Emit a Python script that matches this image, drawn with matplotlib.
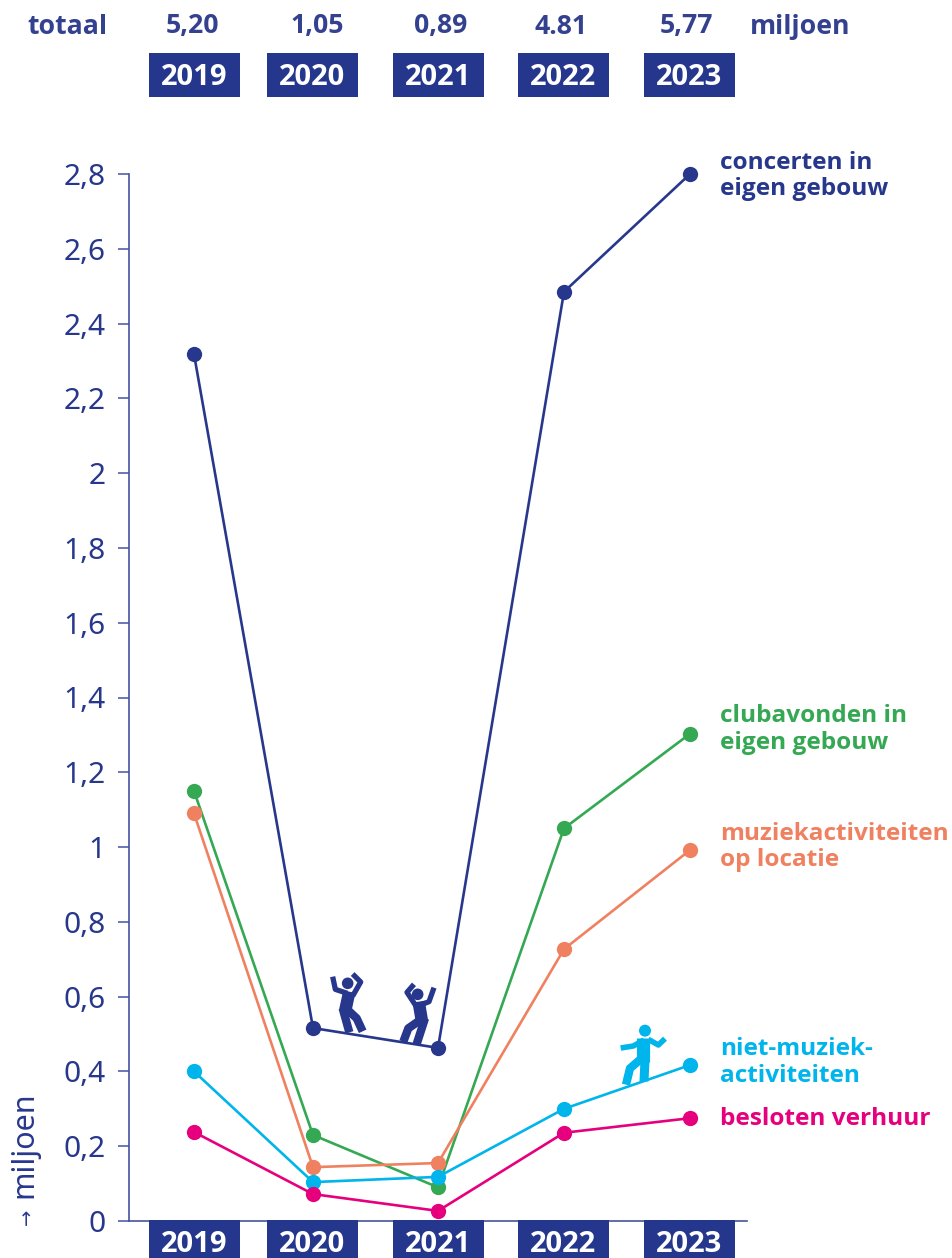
import matplotlib
matplotlib.use("Agg")
import matplotlib.pyplot as plt
from matplotlib.patches import Rectangle, Circle

W, H = 953, 1258
NAVY = "#27378C"
AXIS = "#4453A0"
GREEN = "#35A853"
ORANGE = "#F08160"
CYAN = "#00B4EC"
PINK = "#E6007E"

years = ["2019", "2020", "2021", "2022", "2023"]
totals = ["5,20", "1,05", "0,89", "4.81", "5,77"]
concerten = [2.318, 0.516, 0.463, 2.485, 2.80]
clubavonden = [1.15, 0.23, 0.09, 1.05, 1.303]
muziekactiviteiten = [1.09, 0.144, 0.155, 0.727, 0.992]
niet_muziek = [0.40, 0.104, 0.118, 0.30, 0.417]
besloten = [0.238, 0.072, 0.027, 0.236, 0.275]
yticks = [0, 0.2, 0.4, 0.6, 0.8, 1, 1.2, 1.4, 1.6, 1.8, 2, 2.2, 2.4, 2.6, 2.8]
yticklabels = ["0", "0,2", "0,4", "0,6", "0,8", "1", "1,2", "1,4", "1,6", "1,8",
               "2", "2,2", "2,4", "2,6", "2,8"]

# layout (pixels)
x_centers = [194, 313, 438, 564, 690]
box_lefts = [149, 267, 393, 518, 644]
total_x = [192, 317, 441, 561, 686]
BOX_W = 91
AX_L, AX_R, AX_T, AX_B = 129, 747, 174, 1221
BOLD = ["Open Sans", "DejaVu Sans"]

plt.rcParams["font.family"] = ["Noto Sans", "DejaVu Sans"]
fig = plt.figure(figsize=(W / 100, H / 100), dpi=100)

ax = fig.add_axes([AX_L / W, 1 - AX_B / H, (AX_R - AX_L) / W, (AX_B - AX_T) / H])
ax.set_xlim(AX_L, AX_R)
ax.set_ylim(0, 2.8)
ax.patch.set_alpha(0)
for s in ("top", "right"):
    ax.spines[s].set_visible(False)
for s in ("left", "bottom"):
    ax.spines[s].set_color(AXIS)
    ax.spines[s].set_linewidth(1.2)
ax.set_xticks([])
ax.set_yticks(yticks)
ax.set_yticklabels(yticklabels, fontsize=21.5, color=NAVY)
ax.tick_params(axis="y", length=8, width=1.1, color=AXIS, pad=9)

series = [
    (concerten, NAVY), (clubavonden, GREEN), (muziekactiviteiten, ORANGE),
    (niet_muziek, CYAN), (besloten, PINK),
]
for vals, col in series:
    ax.plot(x_centers, vals, color=col, lw=1.9, marker="o", ms=11, mew=0,
            clip_on=False, zorder=3)

# overlay in pixel coordinates for texts, boxes and icons
ov = fig.add_axes([0, 0, 1, 1])
ov.set_xlim(0, W)
ov.set_ylim(H, 0)
ov.axis("off")
ov.patch.set_alpha(0)

for xl, yr in zip(box_lefts, years):
    cx = xl + BOX_W / 2
    for top, h, ty in ((53, 44, 74), (1220, 40, 1241)):
        ov.add_patch(Rectangle((xl, top), BOX_W, h, color="#25368D", lw=0))
        ov.text(cx, ty, yr, color="white", fontsize=21, fontweight="bold",
                family=BOLD, ha="center", va="center_baseline")

for xc, t in zip(total_x, totals):
    ov.text(xc, 23.5, t, color="#33418F", fontsize=19.2, fontweight="bold", family=BOLD,
            ha="center", va="center_baseline")
ov.text(27, 23.5, "totaal", color="#33418F", fontsize=19.2, fontweight="bold", family=BOLD, va="center_baseline")
ov.text(750, 23.5, "miljoen", color="#33418F", fontsize=19.2, fontweight="bold", family=BOLD, va="center_baseline")

labels = [
    ("concerten in", 160, NAVY), ("eigen gebouw", 186, NAVY),
    ("clubavonden in", 713, GREEN), ("eigen gebouw", 740, GREEN),
    ("muziekactiviteiten", 831, ORANGE), ("op locatie", 857, ORANGE),
    ("niet-muziek-", 1046, CYAN), ("activiteiten", 1073, CYAN),
    ("besloten verhuur", 1116, PINK),
]
for text, y, col in labels:
    ov.text(720.5, y, text, color=col, fontsize=17.6, fontweight="bold", family=BOLD, va="center_baseline")

ov.text(24, 1198, "miljoen", color=NAVY, fontsize=22, rotation=90, ha="center", va="bottom")
ov.text(28, 1225, "→", color=NAVY, fontsize=14, rotation=90, ha="center", va="bottom")


def figure_icon(x0, y0, col, head, limbs, r):
    conv = lambda p: (x0 + p[0] / 3, y0 + p[1] / 3)
    ov.add_patch(Circle(conv(head), r, color=col, lw=0, zorder=5))
    for pts, lw in limbs:
        xs, ys = zip(*[conv(p) for p in pts])
        ov.plot(xs, ys, color=col, lw=lw, solid_capstyle="butt", solid_joinstyle="round", zorder=5)


figure_icon(310, 960, NAVY, (113, 70), [
    ([(118, 95), (105, 155)], 9),
    ([(68, 50), (76, 88), (112, 100)], 3.8),
    ([(128, 42), (152, 66), (128, 108)], 3.8),
    ([(98, 145), (118, 217)], 6),
    ([(108, 145), (140, 175), (158, 214)], 6),
], 5.8)
figure_icon(310, 960, NAVY, (323, 103), [
    ([(326, 125), (336, 185)], 9),
    ([(312, 73), (291, 97), (318, 138)], 3.8),
    ([(372, 83), (357, 125), (332, 135)], 3.8),
    ([(338, 175), (295, 205), (280, 245)], 6),
    ([(345, 175), (320, 252)], 6),
], 5.8)
figure_icon(600, 1010, CYAN, (135, 62), [
    ([(130, 85), (130, 155)], 9.5),
    ([(62, 114), (100, 108), (132, 90)], 4),
    ([(195, 86), (175, 105), (145, 88)], 4),
    ([(125, 145), (90, 175), (78, 224)], 6),
    ([(135, 150), (132, 214)], 6.5),
], 6)

fig.savefig("out.png", dpi=100)
